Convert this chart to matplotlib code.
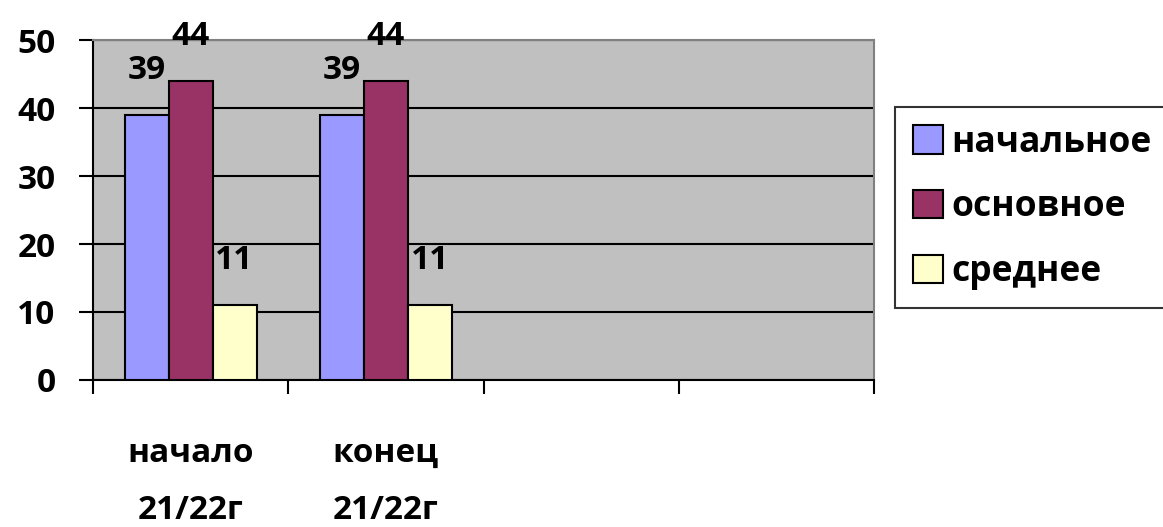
import matplotlib.pyplot as plt
import numpy as np

categories = ["начало\n21/22г", "конец\n21/22г", "", ""]
series = ["начальное", "основное", "среднее"]
nachalnoe = [39, 39]
osnovnoe = [44, 44]
srednee = [11, 11]
colors = ["#9999FF", "#993366", "#FFFFCC"]

plt.rcParams['font.family'] = ['Open Sans', 'DejaVu Sans']
plt.rcParams['font.weight'] = 'bold'

fig = plt.figure(figsize=(11.63, 5.27), dpi=100)
ax = fig.add_axes([0.080, 0.279, 0.6715, 0.645])
ax.set_facecolor("#C0C0C0")

width = 0.225
x = np.arange(len(nachalnoe))
for i, (vals, name) in enumerate(zip([nachalnoe, osnovnoe, srednee], series)):
    bars = ax.bar(x + (i - 1) * width, vals, width, color=colors[i],
                  edgecolor="black", linewidth=1.5, label=name, zorder=3)
    for b, v in zip(bars, vals):
        ax.annotate(str(v), (b.get_x() + b.get_width() / 2, v),
                    xytext=(0, 20), textcoords="offset points",
                    ha="center", va="bottom", fontsize=24, fontweight="bold")

ax.set_xlim(-0.5, 3.5)
ax.set_ylim(0, 50)
ax.set_yticks(range(0, 51, 10))
ax.tick_params(axis="y", labelsize=24, length=10, width=1.5, pad=17)
ax.yaxis.grid(True, color="black", linewidth=1.5, zorder=1)
ax.set_axisbelow(True)

ax.set_xticks(np.arange(-0.5, 4, 1))
ax.set_xticklabels([])
ax.tick_params(axis="x", length=10, width=1.5)
ax.set_xticks(np.arange(len(categories)), minor=True)
ax.set_xticklabels(categories, minor=True, fontsize=24, linespacing=1.95)
ax.tick_params(axis="x", which="minor", length=0, pad=41)

for s in ["top", "right"]:
    ax.spines[s].set_color("#808080")
    ax.spines[s].set_linewidth(1.5)
for s in ["left", "bottom"]:
    ax.spines[s].set_linewidth(1.5)

leg = fig.legend(loc="upper left", bbox_to_anchor=(0.7696, 0.797),
                 fontsize=25.5, frameon=True, fancybox=False, edgecolor="black",
                 handlelength=0.85, handleheight=0.85, handletextpad=0.25,
                 labelspacing=0.81, borderpad=0.5, borderaxespad=0)
leg.get_frame().set_linewidth(1.5)

fig.savefig("out.png", dpi=100)
